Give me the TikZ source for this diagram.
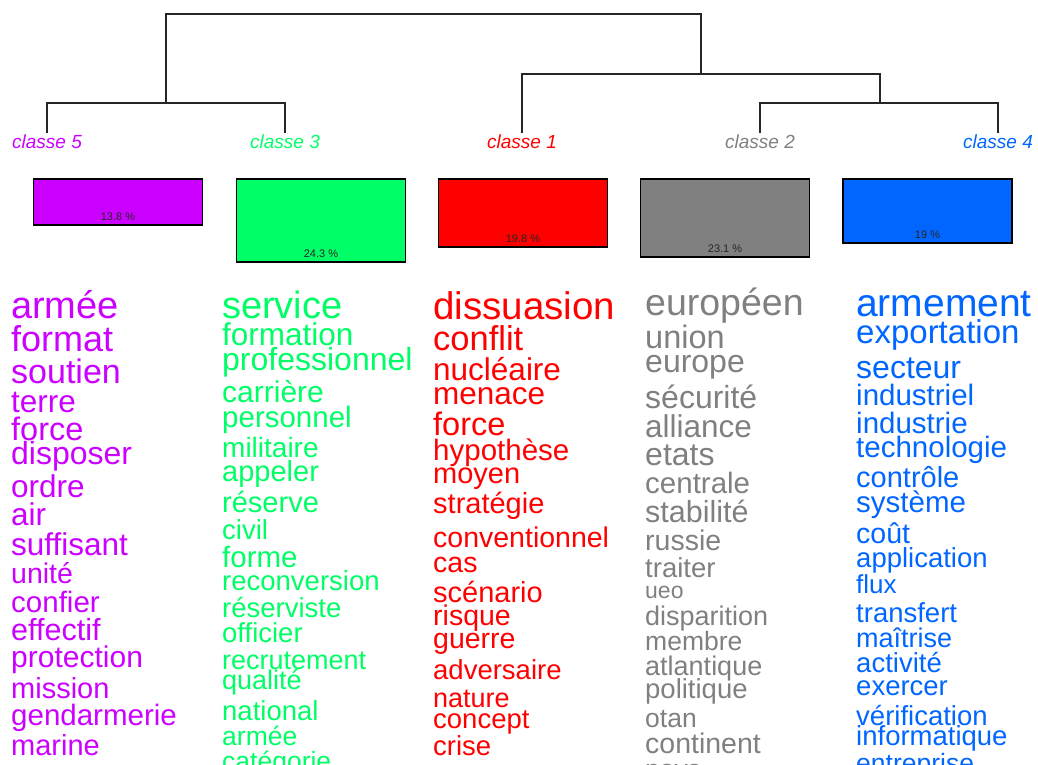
\documentclass[tikz,border=0pt]{standalone}
\usepackage{fontspec}
\setmainfont{Liberation Sans}
\usetikzlibrary{positioning}
\definecolor{ClassFive}{RGB}{204, 0, 255}
\definecolor{ClassThree}{RGB}{0, 255, 102}
\definecolor{ClassOne}{RGB}{255, 0, 0}
\definecolor{ClassTwo}{RGB}{128, 128, 128}
\definecolor{ClassFour}{RGB}{0, 102, 255}

\begin{document}
\begin{tikzpicture}[x=1pt, y=-1pt,
      branch/.style={draw=black!85, line width=1.2pt},
      classlabel/.style={anchor=base, inner sep=1.5pt, font=\fontsize{19}{19}\selectfont\itshape},
      bar/.style={rectangle, draw=black, line width=1.5pt, anchor=north, minimum width=169pt},
      pct/.style={inner sep=0pt, font=\fontsize{11}{11}\selectfont, text=black!85},
      word/.style={anchor=base west, inner sep=0pt}
    ]
      \path[use as bounding box] (0,0) rectangle (1038,765);
      \clip (0,0) rectangle (1038,765);

      \node[classlabel, text=ClassFive] (cl5) at (47,148) {classe 5};
      \node[classlabel, text=ClassThree] (cl3) at (285,148) {classe 3};
      \node[classlabel, text=ClassOne] (cl1) at (522,148) {classe 1};
      \node[classlabel, text=ClassTwo] (cl2) at (760,148) {classe 2};
      \node[classlabel, text=ClassFour] (cl4) at (998,148) {classe 4};

      \coordinate (j53) at (166,103);
      \coordinate (j24) at (880,103);
      \coordinate (j124) at (701,74);
      \coordinate (jroot) at (433,14);

      \draw[branch] (cl5.north) |- (j53) -| (cl3.north);
      \draw[branch] (cl2.north) |- (j24) -| (cl4.north);
      \draw[branch] (cl1.north) |- (j124) -| (j24);
      \draw[branch] (j53) |- (jroot) -| (j124);

      \node[bar, fill=ClassFive, minimum height=46pt] (b5) at (118,178) {};
      \node[bar, fill=ClassThree, minimum height=83pt] (b3) at (321,178) {};
      \node[bar, fill=ClassOne, minimum height=68pt] (b1) at (523,178) {};
      \node[bar, fill=ClassTwo, minimum height=78pt] (b2) at (725,178) {};
      \node[bar, fill=ClassFour, minimum height=64pt] (b4) at (927.5,178) {};

      \node[pct, above=4.5pt of b5.south] (p5) {13.8 \%};
      \node[pct, above=4.5pt of b3.south] (p3) {24.3 \%};
      \node[pct, above=4.5pt of b1.south] (p1) {19.8 \%};
      \node[pct, above=4.5pt of b2.south] (p2) {23.1 \%};
      \node[pct, above=4.5pt of b4.south] (p4) {19 \%};

      \foreach \w/\s/\b [count=\i] in {armée/38/318, format/36/351, soutien/34/383, terre/31.5/412,
          force/32.5/440, disposer/32/464, ordre/31.5/497, air/31.5/525, suffisant/31.5/555,
          unité/28.5/583, confier/29.5/612, effectif/30.5/640, protection/30/667, mission/29/698,
          gendarmerie/29.5/725, marine/29/755}
        \node[word, text=ClassFive, font=\fontsize{\s}{\s}\selectfont] (c5w\i) at (11,\b) {\w};

      \foreach \w/\s/\b [count=\i] in {service/38/318, formation/31.5/345, professionnel/32/370,
          carrière/30/402, personnel/29.5/427, militaire/28/457, appeler/29/481, réserve/29/512,
          civil/27.5/539, forme/29.5/567, reconversion/27.5/590, réserviste/27.5/617,
          officier/27.5/642, recrutement/27/669, qualité/27/689, national/27.5/720,
          armée/26.5/745, catégorie/26.5/770}
        \node[word, text=ClassThree, font=\fontsize{\s}{\s}\selectfont] (c3w\i) at (222,\b) {\w};

      \foreach \w/\s/\b [count=\i] in {dissuasion/38.5/319, conflit/34.5/350, nucléaire/31.5/380,
          menace/31.5/404, force/32.5/435, hypothèse/29.5/460, moyen/29/483, stratégie/29/513,
          conventionnel/28.5/547, cas/28.5/572, scénario/29/602, risque/28.5/625, guerre/28.5/648,
          adversaire/27.5/679, nature/27/707, concept/27.5/728, crise/27.5/755}
        \node[word, text=ClassOne, font=\fontsize{\s}{\s}\selectfont] (c1w\i) at (433,\b) {\w};

      \foreach \w/\s/\b [count=\i] in {européen/37.5/315, union/32.5/348, europe/32/372,
          sécurité/32/408, alliance/31.5/437, etats/32/465, centrale/29.5/493, stabilité/30.5/522,
          russie/28.5/550, traiter/27.5/577, ueo/23/598, disparition/27/625, membre/26.5/650,
          atlantique/27/675, politique/27.5/698, otan/26.5/727, continent/28.5/753, pays/26.5/778}
        \node[word, text=ClassTwo, font=\fontsize{\s}{\s}\selectfont] (c2w\i) at (645,\b) {\w};

      \foreach \w/\s/\b [count=\i] in {armement/39/316, exportation/33/343, secteur/32/378,
          industriel/29.5/405, industrie/29.5/433, technologie/29.5/457, contrôle/29/487,
          système/29.5/512, coût/28.5/543, application/27.5/567, flux/26/593, transfert/27.5/622,
          maîtrise/27/647, activité/27.5/672, exercer/27.5/695, vérification/27.5/725,
          informatique/27.5/745, entreprise/26.5/772}
        \node[word, text=ClassFour, font=\fontsize{\s}{\s}\selectfont] (c4w\i) at (856,\b) {\w};
    \end{tikzpicture}
\end{document}
